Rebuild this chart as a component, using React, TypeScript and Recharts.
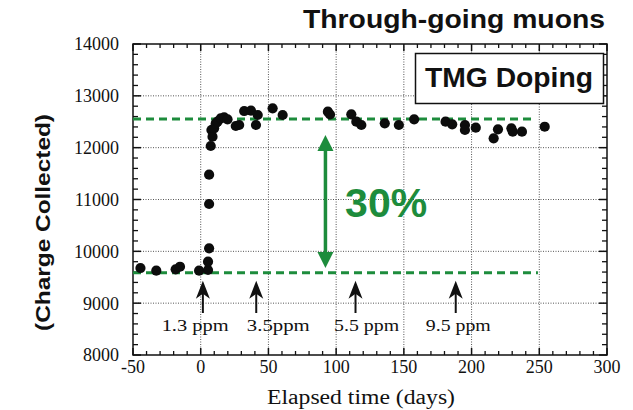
import React from 'react';
import { ScatterChart, Scatter, XAxis, YAxis, ReferenceLine, ReferenceArea } from 'recharts';

// elapsed time (days) and charge collected
const days = [
  -44.5, -32.8, -18.5, -15.3, -1.2, 5.4, 5.4, 6.2, 6.2, 6.2, 7.4, 7.9, 8.7, 9.9, 11.1, 12.4, 14.8, 17.3, 19.8,
  25.9, 28.4, 32.1, 37.1, 42.1, 40.8, 53.1, 60.5, 93.9, 95.5, 111.2, 114.9, 118.6, 135.9, 146.3, 157.6,
  180.8, 185.7, 195.1, 195.1, 203.1, 216.3, 219.5, 229.4, 230.4, 237.2, 254.0,
];
const charge = [
  9678, 9626, 9653, 9703, 9626, 9640, 9800, 10058, 10913, 11478, 12032, 12341, 12211, 12374, 12470, 12501, 12566, 12586, 12547,
  12418, 12437, 12707, 12713, 12630, 12437, 12759, 12630, 12694, 12640, 12644, 12501, 12437, 12470, 12437, 12547,
  12501, 12451, 12437, 12341, 12385, 12181, 12354, 12374, 12308, 12308, 12404,
];

const xTicks = [-50, 0, 50, 100, 150, 200, 250, 300];
const yTicks = [8000, 9000, 10000, 11000, 12000, 13000, 14000];
const xGrid = [0, 50, 100, 150, 200, 250];
const yGrid = [9000, 10000, 11000, 12000, 13000];

// green reference levels before/after doping
const levelValues = [12553, 9588];
const levelEnds = [244, 249];

// doping steps (black arrows)
const doseDays = [1.6, 41, 114.3, 188.3];
const doseLabels = ['1.3 ppm', '3.5ppm', '5.5 ppm', '9.5 ppm'];
const doseLabelDays = [-4.1, 57.3, 122.5, 190.2];
const doseLabelWidths = [67, 63, 65, 65];
const doseTip = 9433;
const doseTail = 8810;
const doseLabelY = 8463;

// 30% gain arrow
const gainDay = 92.1;
const gainRange = [9678, 12244];
const gainText = '30%';
const gainTextPos = [136.9, 10662];

const minorX: number[] = [];
for (let v = -50; v <= 300; v += 10) if (!xTicks.includes(v)) minorX.push(v);
const minorY: number[] = [];
for (let v = 8000; v <= 14000; v += 200) if (!yTicks.includes(v)) minorY.push(v);

const points = days.map((d, i) => ({ x: d, y: charge[i] }));
const doseText = doseLabels.map((t, i) => ({ x: doseLabelDays[i], y: doseLabelY, text: t, w: doseLabelWidths[i] }));
const gainLabel = [{ x: gainTextPos[0], y: gainTextPos[1], text: gainText }];

const GREEN = '#1d8c3c';
const INK = '#111';
const serif = '"Liberation Serif", "Times New Roman", serif';
const sans = '"Liberation Sans", Arial, sans-serif';

const Dot = (p: any) => <circle cx={p.cx} cy={p.cy} r={5.1} fill="#0c0c0c" />;

// inward tick marks on both ends of a full-span reference line
const tickShape = (len: number, w: number) => (p: any) => {
  if (p.x1 === p.x2) {
    const top = Math.min(p.y1, p.y2);
    const bottom = Math.max(p.y1, p.y2);
    return (
      <g stroke={INK} strokeWidth={w}>
        <line x1={p.x1} x2={p.x1} y1={top} y2={top + len} />
        <line x1={p.x1} x2={p.x1} y1={bottom} y2={bottom - len} />
      </g>
    );
  }
  const left = Math.min(p.x1, p.x2);
  const right = Math.max(p.x1, p.x2);
  return (
    <g stroke={INK} strokeWidth={w}>
      <line y1={p.y1} y2={p.y1} x1={left} x2={left + len} />
      <line y1={p.y1} y2={p.y1} x1={right} x2={right - len} />
    </g>
  );
};
const xMajorTick = tickShape(7, 1.5);
const xMinorTick = tickShape(4, 1.3);
const yMajorTick = tickShape(8, 1.5);
const yMinorTick = tickShape(5, 1.3);

const UpArrow = (p: any) => {
  const x = p.x1;
  const top = Math.min(p.y1, p.y2);
  const bottom = Math.max(p.y1, p.y2);
  return (
    <g>
      <line x1={x} y1={bottom} x2={x} y2={top + 12} stroke={INK} strokeWidth={2} />
      <polygon points={`${x},${top} ${x - 7},${top + 18} ${x},${top + 13} ${x + 7},${top + 18}`} fill={INK} />
    </g>
  );
};

const DoubleArrow = (p: any) => {
  const x = p.x1;
  const top = Math.min(p.y1, p.y2);
  const bottom = Math.max(p.y1, p.y2);
  return (
    <g>
      <line x1={x} y1={top + 12} x2={x} y2={bottom - 12} stroke={GREEN} strokeWidth={3.5} />
      <polygon points={`${x},${top} ${x - 8},${top + 16} ${x + 8},${top + 16}`} fill={GREEN} />
      <polygon points={`${x},${bottom} ${x - 8},${bottom - 16} ${x + 8},${bottom - 16}`} fill={GREEN} />
    </g>
  );
};

const DoseLabel = (p: any) => (
  <text x={p.cx} y={p.cy} textAnchor="middle" fontFamily={serif} fontSize={16} fill={INK}
    textLength={p.payload.w} lengthAdjust="spacingAndGlyphs">
    {p.payload.text}
  </text>
);

const GainLabel = (p: any) => (
  <text x={p.cx} y={p.cy} textAnchor="middle" fontFamily={sans} fontWeight="bold" fontSize={41} fill={GREEN}>
    {p.payload.text}
  </text>
);

const tickStyle = { fill: INK, fontFamily: serif, fontSize: 18 };
const xDomain: [number, number] = [-50, 300];
const yDomain: [number, number] = [8000, 14000];

export default function App() {
  return (
    <div style={{ position: 'absolute', left: 0, top: 0, width: 633, height: 410, background: '#fff' }}>
      <ScatterChart width={633} height={410} margin={{ top: 44, right: 26, bottom: 0, left: 0 }}>
        <XAxis xAxisId="b" type="number" dataKey="x" domain={xDomain} ticks={xTicks} interval={0} allowDataOverflow
          height={55} tickLine={false} tickSize={0} tickMargin={5} tick={tickStyle} axisLine={false} />
        <YAxis yAxisId="l" type="number" dataKey="y" domain={yDomain} ticks={yTicks} interval={0} allowDataOverflow
          width={133} tickLine={false} tickSize={0} tickMargin={14} tick={tickStyle} axisLine={false} />

        {xGrid.map((v) => (
          <ReferenceLine key={'gx' + v} xAxisId="b" yAxisId="l" x={v} stroke="#555" strokeWidth={1} strokeDasharray="1 1.5" />
        ))}
        {yGrid.map((v) => (
          <ReferenceLine key={'gy' + v} xAxisId="b" yAxisId="l" y={v} stroke="#555" strokeWidth={1} strokeDasharray="1 1.5" />
        ))}

        {xTicks.map((v) => (
          <ReferenceLine key={'tx' + v} xAxisId="b" yAxisId="l" x={v} ifOverflow="visible" shape={xMajorTick} />
        ))}
        {minorX.map((v) => (
          <ReferenceLine key={'mx' + v} xAxisId="b" yAxisId="l" x={v} ifOverflow="visible" shape={xMinorTick} />
        ))}
        {yTicks.map((v) => (
          <ReferenceLine key={'ty' + v} xAxisId="b" yAxisId="l" y={v} ifOverflow="visible" shape={yMajorTick} />
        ))}
        {minorY.map((v) => (
          <ReferenceLine key={'my' + v} xAxisId="b" yAxisId="l" y={v} ifOverflow="visible" shape={yMinorTick} />
        ))}

        <ReferenceArea xAxisId="b" yAxisId="l" x1={xDomain[0]} x2={xDomain[1]} y1={yDomain[0]} y2={yDomain[1]}
          ifOverflow="visible" fill="none" fillOpacity={0} stroke={INK} strokeWidth={1.5} strokeOpacity={1} />

        {levelValues.map((v, i) => (
          <ReferenceLine key={'lvl' + i} xAxisId="b" yAxisId="l" ifOverflow="visible"
            segment={[{ x: -50, y: v }, { x: levelEnds[i], y: v }]}
            stroke={GREEN} strokeWidth={3} strokeDasharray="8 5" />
        ))}

        {doseDays.map((d, i) => (
          <ReferenceLine key={'dose' + i} xAxisId="b" yAxisId="l" ifOverflow="visible"
            segment={[{ x: d, y: doseTail }, { x: d, y: doseTip }]} shape={UpArrow} />
        ))}

        <ReferenceLine xAxisId="b" yAxisId="l" ifOverflow="visible"
          segment={[{ x: gainDay, y: gainRange[0] }, { x: gainDay, y: gainRange[1] }]} shape={DoubleArrow} />

        <Scatter xAxisId="b" yAxisId="l" data={points} shape={Dot} isAnimationActive={false} />
        <Scatter xAxisId="b" yAxisId="l" data={doseText} shape={DoseLabel} isAnimationActive={false} />
        <Scatter xAxisId="b" yAxisId="l" data={gainLabel} shape={GainLabel} isAnimationActive={false} />
      </ScatterChart>

      <svg width={633} height={410} style={{ position: 'absolute', left: 0, top: 0, pointerEvents: 'none' }}>
        <text x={303} y={28} fontFamily={sans} fontWeight="bold" fontSize={26} fill={INK}
          textLength={302} lengthAdjust="spacingAndGlyphs">Through-going muons</text>
        <rect x={415.5} y={53.5} width={188} height={50} fill="#fff" stroke={INK} strokeWidth={1.5} />
        <text x={425} y={87} fontFamily={sans} fontWeight="bold" fontSize={28} fill={INK}
          textLength={168} lengthAdjust="spacingAndGlyphs">TMG Doping</text>
        <text transform="translate(50,222.5) rotate(-90)" textAnchor="middle" fontFamily={sans} fontWeight="bold"
          fontSize={21} fill={INK} textLength={217} lengthAdjust="spacingAndGlyphs">(Charge Collected)</text>
        <text x={361} y={404} textAnchor="middle" fontFamily={serif} fontSize={20} fill={INK}
          textLength={188} lengthAdjust="spacingAndGlyphs">Elapsed time (days)</text>
      </svg>
    </div>
  );
}
